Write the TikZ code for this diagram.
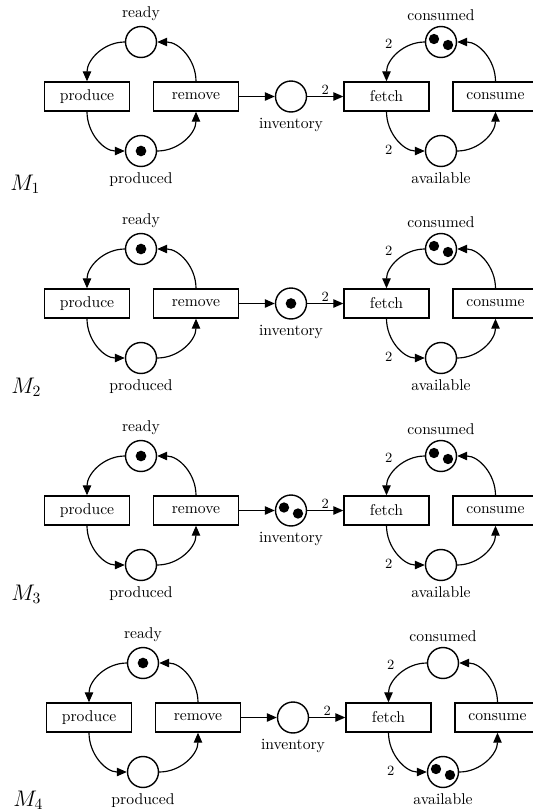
\documentclass[tikz,border=0pt]{standalone}
\usetikzlibrary{arrows.meta}

\tikzset{
  place/.style={circle, draw, line width=0.9pt, minimum size=19.8pt, inner sep=0pt},
  transbox/.style={rectangle, draw, line width=0.9pt, minimum width=54.3pt,
    minimum height=18.5pt, inner sep=0pt},
  arc/.style={line width=0.75pt, -{Triangle[length=6.4pt,width=5.4pt]}},
  weight/.style={font=\small, inner sep=1pt},
  marking/.style={anchor=base west, inner sep=0pt, font=\Large},
}

% one token in the centre of a place
\newcommand\onetoken[1]{\fill (#1.center) circle[radius=3.4pt];}
% two tokens side by side, slightly tilted
\newcommand\twotokens[1]{%
  \fill ([shift={(-7,3)}]#1.center) circle[radius=3.3pt];
  \fill ([shift={(7,-3)}]#1.center) circle[radius=3.3pt];}

% producer/consumer net; #1 name suffix, #2 and #3 offset of the copy
\newcommand\pcnet[3]{%
  \begin{scope}[shift={(#2,#3)}]
    \node[place, label=above:ready]      (ready#1)     at (141,-42)   {};
    \node[place, label=below:produced]   (produced#1)  at (141,-151)  {};
    \node[transbox]                      (produce#1)   at (87,-96.5)  {produce};
    \node[transbox]                      (remove#1)    at (196,-96.5) {remove};
    \node[place, label=below:inventory]  (inventory#1) at (291,-96.5) {};
    \node[transbox]                      (fetch#1)     at (386.5,-96.5) {fetch};
    \node[transbox]                      (consume#1)   at (495.5,-96.5) {consume};
    \node[place, label=above:consumed]   (consumed#1)  at (441,-42)   {};
    \node[place, label=below:available]  (available#1) at (441,-151)  {};

    \draw[arc] (ready#1.west) to[out=180,in=90] (produce#1.north);
    \draw[arc] (produce#1.south) to[out=-90,in=180] (produced#1.west);
    \draw[arc] (produced#1.east) to[out=0,in=-90] (remove#1.south);
    \draw[arc] (remove#1.north) to[out=90,in=0] (ready#1.east);
    \draw[arc] (remove#1.east) -- (inventory#1.west);
    \draw[arc] (inventory#1.east) -- node[weight, above] {2} (fetch#1.west);
    \draw[arc] (consumed#1.west) to[out=180,in=90]
      node[weight, above left=2pt] {2} (fetch#1.north);
    \draw[arc] (fetch#1.south) to[out=-90,in=180]
      node[weight, below left=2pt] {2} (available#1.west);
    \draw[arc] (available#1.east) to[out=0,in=-90] (consume#1.south);
    \draw[arc] (consume#1.north) to[out=90,in=0] (consumed#1.east);
  \end{scope}}

\begin{document}
\begin{tikzpicture}[x=0.639pt, y=0.639pt]
  \useasboundingbox (0,0) rectangle (533,-812);

  \pcnet{1}{0}{0}
  \pcnet{2}{0}{-207}
  \pcnet{3}{0}{-414}
  \pcnet{4}{2}{-621}

  % markings M1 .. M4
  \onetoken{produced1}
  \twotokens{consumed1}

  \onetoken{ready2}
  \onetoken{inventory2}
  \twotokens{consumed2}

  \onetoken{ready3}
  \twotokens{inventory3}
  \twotokens{consumed3}

  \onetoken{ready4}
  \twotokens{available4}

  \node[marking] (m1) at (10,-190) {$M_1$};
  \node[marking] (m2) at (11,-393) {$M_2$};
  \node[marking] (m3) at (11,-600) {$M_3$};
  \node[marking] (m4) at (13,-806) {$M_4$};
\end{tikzpicture}
\end{document}
